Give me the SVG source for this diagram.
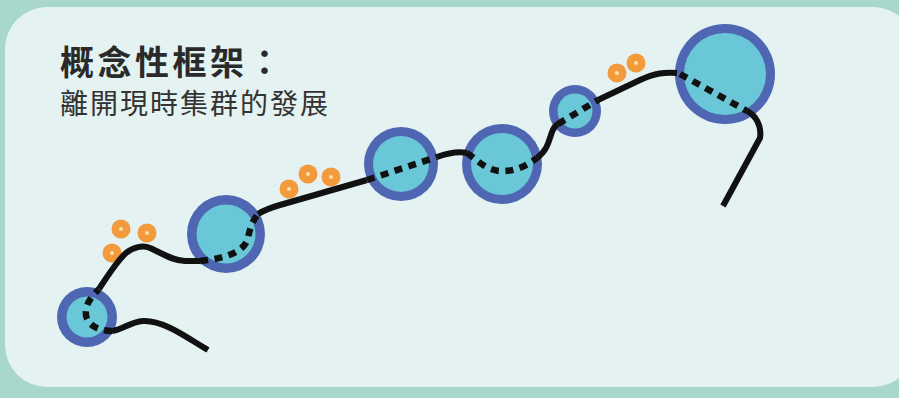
<svg xmlns="http://www.w3.org/2000/svg" width="899" height="398" viewBox="0 0 899 398">
  <style>
    .ring { fill: #4f66b3; }
    .core { fill: #6ac7d8; }
    .dot { fill: #f29a3c; }
    .dotc { fill: #fde3a8; }
    .solid { fill: none; stroke: #111; stroke-width: 6; stroke-linecap: butt; stroke-linejoin: round; }
    .dash { fill: none; stroke: #111; stroke-width: 6.5; stroke-dasharray: 8 6.5; stroke-linecap: butt; }
    .title { font-family: "Noto Sans CJK TC", "Noto Sans CJK SC", sans-serif; font-weight: 700; font-size: 34px; letter-spacing: 3.5px; fill: #2a2a2a; }
    .sub { font-family: "Noto Sans CJK TC", "Noto Sans CJK SC", sans-serif; font-weight: 400; font-size: 28px; letter-spacing: 2px; fill: #333; }
  </style>
  <rect x="0" y="0" width="899" height="398" fill="#a8d7cb"/>
  <rect x="5" y="7" width="910" height="380" rx="42" ry="42" fill="#e4f2f1"/>

  <g id="title">
    <text class="title" x="60" y="75">概念性框架：</text>
    <text class="sub" x="60" y="114">離開現時集群的發展</text>
  </g>

  <g id="node1"><circle class="ring" cx="87" cy="317" r="30"/><circle class="core" cx="87" cy="317" r="20.5"/></g>
  <g id="node2"><circle class="ring" cx="226" cy="234" r="39"/><circle class="core" cx="226" cy="234" r="29.5"/></g>
  <g id="node3"><circle class="ring" cx="401" cy="164" r="37"/><circle class="core" cx="401" cy="164" r="28"/></g>
  <g id="node4"><circle class="ring" cx="502" cy="164" r="40"/><circle class="core" cx="502" cy="164" r="31"/></g>
  <g id="node5"><circle class="ring" cx="575" cy="111" r="26"/><circle class="core" cx="575" cy="111" r="17.5"/></g>
  <g id="node6"><circle class="ring" cx="725" cy="74" r="50"/><circle class="core" cx="725" cy="74" r="41"/></g>

  <g id="dots1">
    <circle class="dot" cx="121" cy="229" r="9.5"/><circle class="dotc" cx="121" cy="229" r="2"/>
    <circle class="dot" cx="147" cy="233" r="9.5"/><circle class="dotc" cx="147" cy="233" r="2"/>
    <circle class="dot" cx="112" cy="253" r="9.5"/><circle class="dotc" cx="112" cy="253" r="2"/>
  </g>
  <g id="dots2">
    <circle class="dot" cx="289" cy="189" r="9.5"/><circle class="dotc" cx="289" cy="189" r="2"/>
    <circle class="dot" cx="308" cy="174" r="9.5"/><circle class="dotc" cx="308" cy="174" r="2"/>
    <circle class="dot" cx="331" cy="177" r="9.5"/><circle class="dotc" cx="331" cy="177" r="2"/>
  </g>
  <g id="dots3">
    <circle class="dot" cx="617" cy="73" r="9.5"/><circle class="dotc" cx="617" cy="73" r="2"/>
    <circle class="dot" cx="636" cy="63" r="9.5"/><circle class="dotc" cx="636" cy="63" r="2"/>
  </g>

  <g id="connectors">
    <path class="solid" d="M208,350 C190,340 165,320 143,321 C130,322 122,330 112,331"/>
    <path class="dash" d="M112,331 C95,331 84,322 86,310 C87,302 93,295 99,289"/>
    <path class="solid" d="M99,289 C110,272 118,260 126,253 C133,247 143,245 150,248 C162,253 170,260 185,261 L200,261"/>
    <path class="dash" d="M200,261 C230,258 245,250 248,238 C250,228 252,222 258,214"/>
    <path class="solid" d="M258,214 Q266,209 280,205 L367,180"/>
    <path class="dash" d="M367,180 L437,157"/>
    <path class="solid" d="M437,157 C448,153 458,151 467,153"/>
    <path class="dash" d="M467,153 C475,158 485,170 500,171 C515,172 528,165 537,158"/>
    <path class="solid" d="M537,158 C548,150 549,140 552,132 C554,127 556,125 558,124"/>
    <path class="dash" d="M558,124 L598,100"/>
    <path class="solid" d="M598,100 L640,80 C655,73 665,72 677,73"/>
    <path class="dash" d="M680,74 L747,111"/>
    <path class="solid" d="M747,111 C755,115 762,125 760,138 L723,206"/>
  </g>
</svg>
